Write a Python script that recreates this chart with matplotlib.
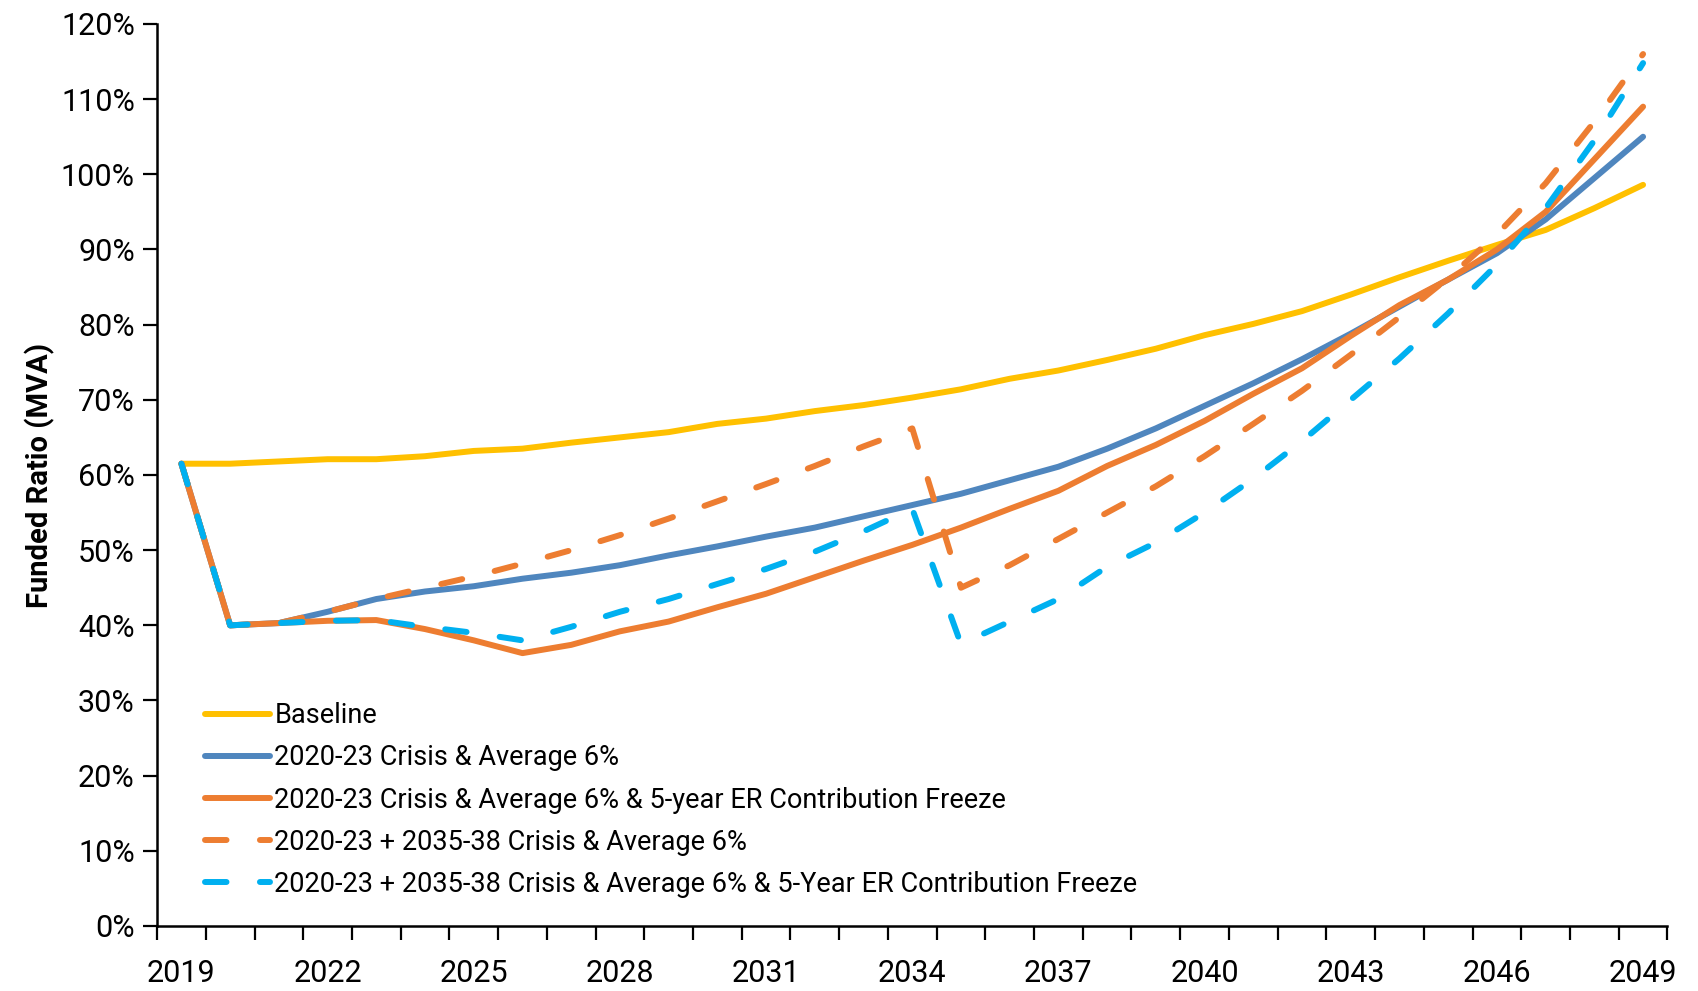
import numpy as np
import matplotlib.pyplot as plt

years = list(range(2019, 2050))

baseline = [61.5, 61.5, 61.8, 62.1, 62.1, 62.5, 63.2, 63.5, 64.3, 65.0, 65.7,
            66.8, 67.5, 68.5, 69.3, 70.3, 71.4, 72.8, 73.9, 75.3, 76.8, 78.6,
            80.1, 81.8, 84.0, 86.3, 88.5, 90.6, 92.6, 95.5, 98.6]
crisis_avg6 = [61.5, 40.0, 40.3, 41.8, 43.5, 44.5, 45.2, 46.2, 47.0, 48.0, 49.3,
               50.5, 51.8, 53.0, 54.5, 56.0, 57.5, 59.3, 61.1, 63.5, 66.2, 69.2,
               72.2, 75.4, 78.8, 82.4, 86.0, 89.5, 94.0, 99.5, 105.0]
crisis_freeze = [61.5, 40.0, 40.3, 40.6, 40.7, 39.5, 38.0, 36.3, 37.4, 39.2, 40.5,
                 42.4, 44.2, 46.4, 48.6, 50.7, 53.0, 55.5, 57.9, 61.2, 64.0, 67.2,
                 70.8, 74.2, 78.5, 82.6, 86.0, 90.0, 95.0, 102.0, 109.0]
two_crisis_avg6 = [61.5, 40.0, 40.3, 41.8, 43.5, 45.0, 46.5, 48.2, 50.0, 52.0, 54.2,
                   56.5, 58.8, 61.2, 63.8, 66.2, 45.0, 48.0, 51.5, 55.0, 58.5, 62.5,
                   66.8, 71.2, 76.0, 81.0, 86.2, 92.0, 98.8, 107.0, 116.0]
two_crisis_freeze = [61.5, 40.0, 40.3, 40.6, 40.7, 39.8, 39.0, 38.0, 39.8, 41.8, 43.5,
                     45.5, 47.5, 49.8, 52.5, 55.5, 37.5, 40.5, 43.5, 47.8, 51.0, 55.0,
                     59.5, 64.5, 70.0, 75.5, 81.5, 88.0, 95.5, 104.5, 114.8]

labels = ["Baseline",
          "2020-23 Crisis & Average 6%",
          "2020-23 Crisis & Average 6% & 5-year ER Contribution Freeze",
          "2020-23 + 2035-38 Crisis & Average 6%",
          "2020-23 + 2035-38 Crisis & Average 6% & 5-Year ER Contribution Freeze"]

plt.rcParams['font.family'] = ['Roboto', 'DejaVu Sans']

fig = plt.figure(figsize=(16.98, 9.91), dpi=100)
ax = fig.add_axes([0.0925, 0.0656, 0.8895, 0.9102])

lw = 4.3
dash = (3.6, 5.6)
ax.plot(years, baseline, color='#FFC000', lw=lw, label=labels[0], solid_capstyle='round')
ax.plot(years, crisis_avg6, color='#4F86BE', lw=lw, label=labels[1], solid_capstyle='round')
ax.plot(years, crisis_freeze, color='#ED7D31', lw=lw, label=labels[2], solid_capstyle='round')
ax.plot(years, two_crisis_avg6, color='#ED7D31', lw=lw, label=labels[3],
        dashes=dash, dash_capstyle='round')
ax.plot(years, two_crisis_freeze, color='#00B0F0', lw=lw, label=labels[4],
        dashes=dash, dash_capstyle='round')

ax.set_xlim(2018.5, 2049.5)
ax.set_ylim(0, 120)

ax.set_xticks(np.arange(2018.5, 2050.5, 1))
ax.set_xticklabels([])
ax.set_xticks(years[::3], minor=True)
ax.set_xticklabels([str(y) for y in years[::3]], minor=True)
ax.tick_params(axis='x', which='major', length=10, width=1.6, direction='out')
ax.tick_params(axis='x', which='minor', length=0, pad=24, labelsize=22)

ax.set_yticks(np.arange(0, 121, 10))
ax.set_yticklabels([f"{v}%" for v in range(0, 121, 10)])
ax.tick_params(axis='y', length=10, width=1.6, direction='out', labelsize=22, pad=6)

for s in ['top', 'right']:
    ax.spines[s].set_visible(False)
for s in ['left', 'bottom']:
    ax.spines[s].set_linewidth(1.8)

ax.set_ylabel("Funded Ratio (MVA)", fontsize=21, fontweight='bold', labelpad=4)

ax.legend(loc='upper left', bbox_to_anchor=(0.032, 0.248), frameon=False,
          fontsize=19.5, handlelength=2.4, handletextpad=0.15, labelspacing=0.56,
          borderpad=0, borderaxespad=0)

fig.savefig('out.png', dpi=100)
